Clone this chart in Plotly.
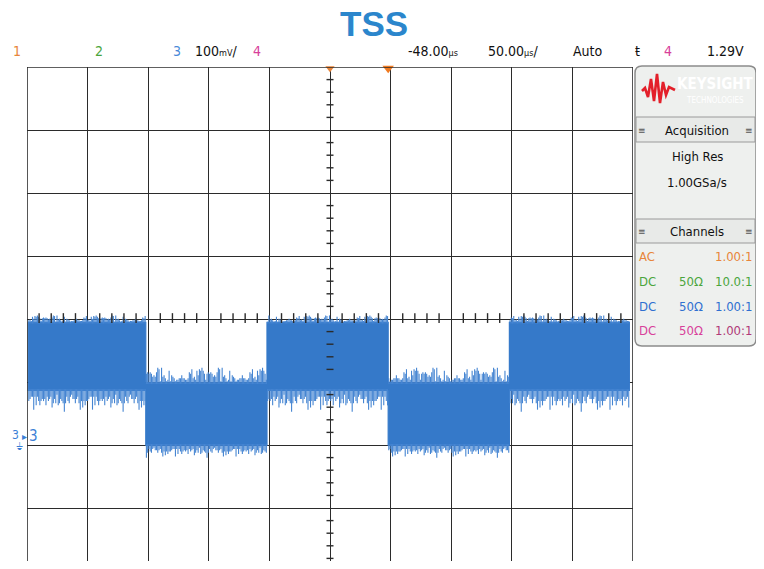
import plotly.graph_objects as go

# ---------------- data (channel 3: 100 mV/div, timebase 50 µs/div) ----------------
edges_us = [-297, -200, -100, 0, 100, 199]          # segment boundaries of the square wave
band_top_mv = [182, 86, 182, 86, 182]                # upper edge of the noisy band per segment
band_bot_mv = [74, -13, 74, -13, 74]                 # lower edge of the noisy band per segment
top_spike_scale_mv = [11, 24, 11, 24, 11]            # size of the upward noise spikes
bot_spike_scale_mv = [34, 20, 34, 20, 34]            # size of the downward noise spikes
top_pattern = [0.3, 0.8, 0.2, 0.5, 1.0, 0.4, 0.1, 0.6, 0.3, 0.9, 0.2, 0.5, 0.7, 0.3, 0.1, 0.8,
               0.4, 0.6, 0.2, 1.0, 0.5, 0.3, 0.7, 0.2, 0.4, 0.9, 0.1, 0.6, 0.3, 0.5, 0.8, 0.2,
               0.4, 0.7, 0.3, 1.0, 0.2, 0.5, 0.6, 0.1, 0.8, 0.3, 0.4, 0.9, 0.2, 0.6, 0.3, 0.7]
bot_pattern = [0.5, 0.3, 0.7, 0.4, 0.6, 0.2, 0.9, 0.4, 0.5, 0.3, 0.6, 1.0, 0.4, 0.5, 0.3, 0.7,
               0.5, 0.2, 0.6, 0.4, 0.8, 0.3, 0.5, 0.4, 0.7, 0.3, 0.6, 0.5, 0.9, 0.4, 0.3, 0.6,
               0.5, 0.4, 0.7, 0.3, 0.5, 0.8, 0.4, 0.6, 0.3, 0.5, 0.7, 0.4, 0.6, 0.5, 0.3, 0.6]

x_range_us = [-298, 202]
grid_x0_us = -298
grid_y0_mv = -12.7
trigger_us = -48
delay_marker_us = 0
center_mv = 187.3
mv_per_px = 100 / 63

status_labels = ["1", "2", "3", "100<span style='font-size:9px'>mV</span>/", "4",
                 "-48.00<span style='font-size:9px'>µs</span>",
                 "50.00<span style='font-size:9px'>µs</span>/", "Auto", "ŧ", "4", "1.29V"]
acq_lines = ["High Res", "1.00GSa/s"]
chan_coupling = ["AC", "DC", "DC", "DC"]
chan_imp = ["", "50Ω", "50Ω", "50Ω"]
chan_probe = ["1.00:1", "10.0:1", "1.00:1", "1.00:1"]

# ---------------- styling ----------------
OFF = 8                      # page body margin of the browser
W, H = 764 - OFF, 569 - 2 * OFF
L, R, T = 27, 633, 67        # plot area in reference pixels
B = H + OFF
y_range_mv = [center_mv - (B - 319) * mv_per_px, center_mv + (319 - T) * mv_per_px]
BLUE = "#3579c9"
C_ORANGE = "#e8853a"
C_GREEN = "#4aa53c"
C_BLUE = "#2f6fd0"
C_PINK = "#d8409a"
FONT = "DejaVu Sans Condensed, Liberation Sans Narrow, Liberation Sans, sans-serif"
GRID = "#2b2b2b"
PANEL_R = 756


def pxx(p):
    return (p - L) / (R - L)


def pxy(p):
    return (B - p) / (B - T)


fig = go.Figure()

# waveform band polygon
wx, wy = [], []
for i in range(len(band_top_mv)):
    wx += [edges_us[i], edges_us[i + 1]]
    wy += [band_top_mv[i], band_top_mv[i]]
for i in reversed(range(len(band_bot_mv))):
    wx += [edges_us[i + 1], edges_us[i]]
    wy += [band_bot_mv[i], band_bot_mv[i]]
wx.append(wx[0]); wy.append(wy[0])
fig.add_trace(go.Scatter(x=wx, y=wy, mode="lines", fill="toself", fillcolor=BLUE,
                         line=dict(color=BLUE, width=1.2), hoverinfo="skip"))

# noise spikes
sx, sy = [], []
n = len(top_pattern)
m = 2 * n
for i in range(len(band_top_mv)):
    t0, t1 = edges_us[i], edges_us[i + 1]
    for k in range(m):
        t = t0 + (k + 0.5) / m * (t1 - t0)
        a = top_pattern[(5 * k + 7 * i) % n] * top_spike_scale_mv[i]
        b = bot_pattern[(7 * k + 11 * i) % n] * bot_spike_scale_mv[i]
        sx += [t, t, None, t, t, None]
        sy += [band_top_mv[i] - 2, band_top_mv[i] + a, None,
               band_bot_mv[i] + 2, band_bot_mv[i] - b, None]
fig.add_trace(go.Scatter(x=sx, y=sy, mode="lines", line=dict(color="#4585d2", width=1.1),
                         hoverinfo="skip", connectgaps=False))

# center axis minor ticks
hx = [grid_x0_us + 10 * k for k in range(1, 50) if k % 5 != 0]
fig.add_trace(go.Scatter(x=hx, y=[center_mv + 1.5] * len(hx), mode="markers",
                         marker=dict(symbol="line-ns", size=7, line=dict(color=GRID, width=1.4)),
                         hoverinfo="skip"))
vy = [grid_y0_mv - 200 + 20 * k for k in range(0, 41) if k % 5 != 0]
fig.add_trace(go.Scatter(x=[trigger_us] * len(vy), y=vy, mode="markers",
                         marker=dict(symbol="line-ew", size=5, line=dict(color=GRID, width=1.4)),
                         hoverinfo="skip"))

# top markers (trigger position and delay)
fig.add_trace(go.Scatter(x=[trigger_us], y=[y_range_mv[1] - 2], mode="markers",
                         marker=dict(symbol="triangle-down", size=8, color=C_ORANGE),
                         cliponaxis=False, hoverinfo="skip"))
fig.add_trace(go.Scatter(x=[delay_marker_us], y=[y_range_mv[1] - 2], mode="markers",
                         marker=dict(symbol="triangle-down", size=10, color="#f07a20"),
                         cliponaxis=False, hoverinfo="skip"))

shapes = []
for (x0, y0, x1, y1) in [(x_range_us[0], y_range_mv[1], x_range_us[1], y_range_mv[1]),
                         (x_range_us[0], y_range_mv[0], x_range_us[0], y_range_mv[1]),
                         (x_range_us[1], y_range_mv[0], x_range_us[1], y_range_mv[1])]:
    shapes.append(dict(type="line", xref="x", yref="y", x0=x0, y0=y0, x1=x1, y1=y1,
                       line=dict(color=GRID, width=1.6), layer="above"))


def rpath(x0, y0, x1, y1, r):
    X0, X1 = pxx(x0), pxx(x1)
    Y0, Y1 = pxy(y0), pxy(y1)
    rx = r / (R - L)
    ry = r / (B - T)
    return (f"M {X0+rx},{Y0} L {X1-rx},{Y0} Q {X1},{Y0} {X1},{Y0-ry} "
            f"L {X1},{Y1+ry} Q {X1},{Y1} {X1-rx},{Y1} L {X0+rx},{Y1} Q {X0},{Y1} {X0},{Y1+ry} "
            f"L {X0},{Y0-ry} Q {X0},{Y0} {X0+rx},{Y0} Z")


shapes.append(dict(type="path", xref="paper", yref="paper", path=rpath(635, 66, PANEL_R, 346, 7),
                   fillcolor="#eef0ee", line=dict(color="#8c8c8c", width=1.5), layer="above"))
for (y0, y1) in [(117, 142), (219, 243)]:
    shapes.append(dict(type="rect", xref="paper", yref="paper", x0=pxx(636), x1=pxx(PANEL_R - 1),
                       y0=pxy(y0), y1=pxy(y1), fillcolor="#e8eae8",
                       line=dict(color="#9a9a9a", width=1), layer="above"))
logo = [(642, 91), (645, 88), (648, 97), (651, 79), (654, 101), (657, 74), (660, 103),
        (663, 82), (666, 95), (669, 87), (675, 90)]
p = "M " + " L ".join(f"{pxx(a)},{pxy(b)}" for a, b in logo)
shapes.append(dict(type="path", xref="paper", yref="paper", path=p,
                   line=dict(color="#e3202a", width=2.6), layer="above"))

ann = []


def text(s, x, y, color="#111111", size=14, xanchor="center", family=FONT, bold=False):
    if bold:
        s = f"<b>{s}</b>"
    ann.append(dict(text=s, x=pxx(x), y=pxy(y), xref="paper", yref="paper", showarrow=False,
                    xanchor=xanchor, yanchor="middle", font=dict(color=color, size=size, family=family)))


text("TSS", 374, 23, color="#2b86cc", size=35, family="Liberation Sans, Arial, sans-serif", bold=True)

status_pos = [17, 99, 177, 216, 257, 433, 513, 588, 637, 668, 725]
status_col = [C_ORANGE, C_GREEN, "#4a8ad8", "#111111", C_PINK, "#111111", "#111111", "#111111",
              "#111111", C_PINK, "#111111"]
for s, x, c in zip(status_labels, status_pos, status_col):
    text(s, x, 51, color=c, size=14)

text("3", 15, 435, color="#3a7fd6", size=12)
text("⏚", 19, 446, color="#3a7fd6", size=10, family="DejaVu Sans")
text("▸", 24, 436, color="#3a7fd6", size=10, family="DejaVu Sans")
text("3", 33, 436, color="#3a7fd6", size=15)

text("KEYSIGHT", 715, 84, color="#ffffff", size=15, bold=True)
text("TECHNOLOGIES", 715, 100, color="#ffffff", size=8)
text("Acquisition", 697, 130, size=13)
text("≡", 642, 130, color="#555555", size=10)
text("≡", PANEL_R - 7, 130, color="#555555", size=10)
text(acq_lines[0], 697, 156, size=13)
text(acq_lines[1], 697, 182, size=13)
text("Channels", 697, 231, size=13)
text("≡", 642, 231, color="#555555", size=10)
text("≡", PANEL_R - 7, 231, color="#555555", size=10)
row_y = [256, 281, 306, 330]
row_col = [C_ORANGE, C_GREEN, C_BLUE, C_PINK]
probe_col = [C_ORANGE, C_GREEN, C_BLUE, "#b03a78"]
for cpl, imp, prb, y, c, pc in zip(chan_coupling, chan_imp, chan_probe, row_y, row_col, probe_col):
    text(cpl, 637, y, color=c, size=13, xanchor="left")
    if imp:
        text(imp, 691, y, color=c, size=13)
    text(prb, PANEL_R - 2, y, color=pc, size=13, xanchor="right")

fig.update_layout(
    width=W, height=H, margin=dict(l=L - OFF, r=W - (R - OFF), t=T - OFF, b=0),
    paper_bgcolor="white", plot_bgcolor="white", showlegend=False,
    shapes=shapes, annotations=ann,
    xaxis=dict(range=x_range_us, tick0=grid_x0_us, dtick=50, showgrid=True, gridcolor=GRID,
               gridwidth=1.3, zeroline=False, showticklabels=False, ticks="", fixedrange=True),
    yaxis=dict(range=y_range_mv, tick0=grid_y0_mv, dtick=100, showgrid=True, gridcolor=GRID,
               gridwidth=1.3, zeroline=False, showticklabels=False, ticks="", fixedrange=True),
)

fig.write_html("out.html")
